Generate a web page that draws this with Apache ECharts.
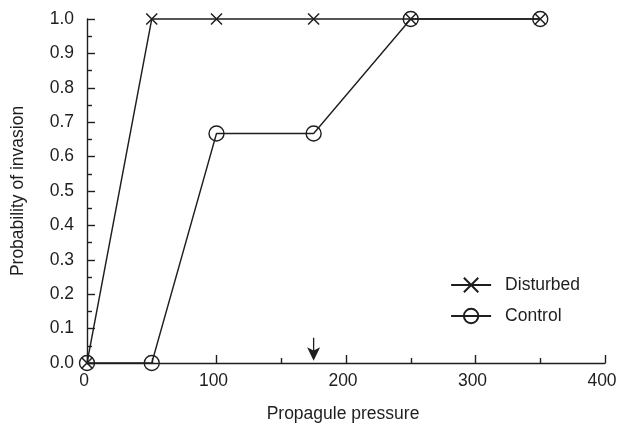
<!DOCTYPE html>
<html><head><meta charset="utf-8">
<script src="https://cdn.jsdelivr.net/npm/echarts@6/dist/echarts.min.js"></script>
<style>html,body{margin:0;padding:0;background:#fff}#c{width:618px;height:427px}</style>
</head><body><div id="c"></div>
<script>
const pressure = [0, 50, 100, 175, 250, 350];
const disturbed = [0, 1, 1, 1, 1, 1];
const control = [0, 0, 0.667, 0.667, 1, 1];
const arrowAt = 175;
const xTicks = [0, 100, 200, 300, 400];

const ink = '#1e1e1e';
const font = 'Liberation Sans, Arial, Helvetica, sans-serif';
const fs = 17.5;
const crossPath = 'path://M0,0 L10,10 M10,0 L0,10';

const chart = echarts.init(document.getElementById('c'));
chart.setOption({
  animation: false,
  backgroundColor: '#fff',
  grid: { left: 87, right: 13, top: 19, bottom: 64, outerBoundsMode: 'none', containLabel: false },
  legend: {
    orient: 'vertical', right: 33, top: 271, itemGap: 13,
    itemWidth: 40, itemHeight: 18,
    textStyle: { color: ink, fontSize: fs, fontFamily: font, padding: [0, 0, 0, 9] },
    data: ['Disturbed', 'Control']
  },
  xAxis: {
    type: 'value', min: 0, max: 400, interval: 100,
    name: 'Propagule pressure', nameLocation: 'middle', nameGap: 42,
    nameTextStyle: { color: ink, fontSize: fs, fontFamily: font, padding: [0, 6, 0, 0] },
    axisLine: { lineStyle: { color: ink, width: 1.4 } },
    axisTick: { inside: true, length: 8, lineStyle: { color: ink, width: 1.4 } },
    minorTick: { show: true, splitNumber: 2, length: 5, lineStyle: { color: ink, width: 1.4 } },
    axisLabel: { color: ink, fontSize: fs, fontFamily: font, margin: 9, padding: [0, 6, 0, 0] },
    splitLine: { show: false }
  },
  yAxis: {
    type: 'value', min: 0, max: 1, interval: 0.1,
    name: 'Probability of invasion', nameLocation: 'middle', nameGap: 60,
    nameTextStyle: { color: ink, fontSize: fs, fontFamily: font },
    axisLine: { show: true, lineStyle: { color: ink, width: 1.4 } },
    axisTick: { show: true, inside: true, length: 8, lineStyle: { color: ink, width: 1.4 } },
    minorTick: { show: true, splitNumber: 2, length: 5, lineStyle: { color: ink, width: 1.4 } },
    axisLabel: { color: ink, fontSize: fs, fontFamily: font, margin: 13, formatter: v => v.toFixed(1) },
    splitLine: { show: false }
  },
  series: [
    {
      name: 'Disturbed', type: 'line', clip: false,
      data: pressure.map((p, i) => [p, disturbed[i]]),
      symbol: crossPath, symbolSize: 11,
      lineStyle: { color: ink, width: 1.4 },
      itemStyle: { color: 'rgba(0,0,0,0)', borderColor: ink, borderWidth: 1.5 },
      markPoint: {
        silent: true,
        symbol: 'path://M6.3,0 L7.7,0 L7.7,13 L14,10 L7,24 L0,10 L6.3,13 Z',
        symbolSize: [13, 23],
        itemStyle: { color: ink },
        label: { show: false },
        data: [{ coord: [arrowAt, 0.04] }]
      }
    },
    {
      name: 'Control', type: 'line', clip: false,
      data: pressure.map((p, i) => [p, control[i]]),
      symbol: 'circle', symbolSize: 15,
      lineStyle: { color: ink, width: 1.4 },
      itemStyle: { color: 'rgba(0,0,0,0)', borderColor: ink, borderWidth: 1.4 }
    }
  ]
});
</script></body></html>
